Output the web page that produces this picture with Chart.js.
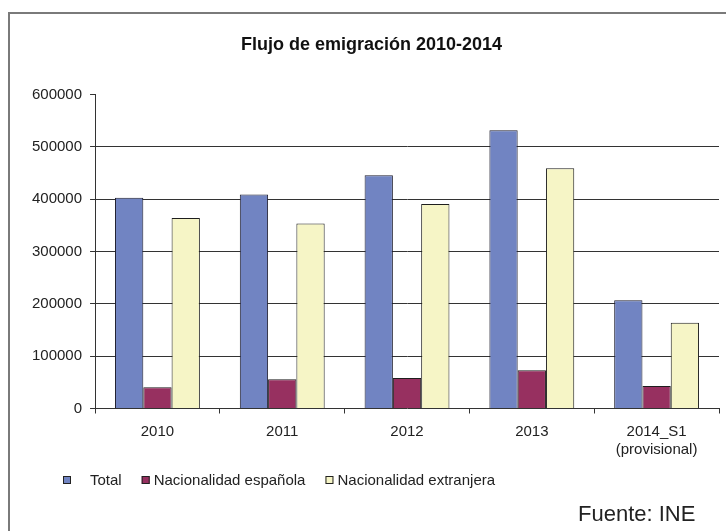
<!DOCTYPE html>
<html>
<head>
<meta charset="utf-8">
<title>Flujo de emigración 2010-2014</title>
<script src="https://cdn.jsdelivr.net/npm/chart.js@4.4.1/dist/chart.umd.min.js"></script>
<style>
html,body{margin:0;padding:0;background:#fff;overflow:hidden;}
#wrap{position:relative;width:726px;height:531px;}
</style>
</head>
<body>
<div id="wrap"><canvas id="emigChart" width="726" height="531"></canvas></div>
<script>

// ===========================
// DATOS
// ===========================

const categorias = ["2010", "2011", "2012", "2013", ["2014_S1", "(provisional)"]];

const total      = [403000, 409000, 446000, 532000, 207000];
const espanola   = [40500, 56000, 58500, 73000, 43000];
const extranjera = [364000, 353500, 391000, 459000, 164000];

const ticksY = [0, 100000, 200000, 300000, 400000, 500000, 600000];

const FONT = "'Liberation Sans', Arial, sans-serif";

// ===========================
// MARCO, LEYENDA Y FUENTE
// ===========================

const extras = {
    id: 'extras',
    afterDraw(chart){

        const c = chart.ctx;
        c.save();

        // marco gris (solo arriba e izquierda visibles)
        c.strokeStyle = '#7a7a7a';
        c.lineWidth = 2;
        c.beginPath();
        c.moveTo(9, 531);
        c.lineTo(9, 13);
        c.lineTo(726, 13);
        c.stroke();

        // leyenda
        c.font = "15px " + FONT;
        c.textBaseline = 'alphabetic';
        const gaps = [19, 4, 4];
        let x = 63;
        const yBox = 476;
        chart.data.datasets.forEach((ds, i) => {
            c.fillStyle = ds.backgroundColor;
            c.fillRect(x, yBox, 8, 8);
            c.strokeStyle = '#222';
            c.lineWidth = 1;
            c.strokeRect(x + 0.5, yBox + 0.5, 7, 7);
            x += 8 + gaps[i];
            c.fillStyle = '#222';
            c.fillText(ds.label, x, 485);
            x += c.measureText(ds.label).width + 20;
        });

        // fuente
        c.font = "22px " + FONT;
        c.fillStyle = '#222';
        c.fillText("Fuente: INE", 578, 521);

        c.restore();
    }
};

// ===========================
// GRAFICO
// ===========================

const ctx = document.getElementById("emigChart").getContext("2d");

const emigChart = new Chart(ctx, {

    type: 'bar',

    data: {
        labels: categorias,
        datasets: [
            {
                label: 'Total',
                data: total,
                backgroundColor: '#7184c2',
                borderColor: '#1e1e2e',
                borderWidth: 1
            },
            {
                label: 'Nacionalidad española',
                data: espanola,
                backgroundColor: '#973060',
                borderColor: '#1e1e1e',
                borderWidth: 1
            },
            {
                label: 'Nacionalidad extranjera',
                data: extranjera,
                backgroundColor: '#f6f5c6',
                borderColor: '#1e1e1e',
                borderWidth: 1
            }
        ]
    },

    options: {
        responsive: false,
        animation: false,
        layout: {
            padding: { left: 24, right: 7, top: 0, bottom: 63 }
        },
        datasets: {
            bar: {
                categoryPercentage: 0.68,
                barPercentage: 1.0
            }
        },
        plugins: {
            legend: { display: false },
            tooltip: { enabled: false },
            title: {
                display: true,
                text: 'Flujo de emigración 2010-2014',
                color: '#111',
                font: { family: FONT, size: 18, weight: 'bold' },
                padding: { top: 34, bottom: 39 }
            }
        },
        scales: {
            x: {
                grid: {
                    offset: true,
                    drawOnChartArea: false,
                    drawTicks: true,
                    tickLength: 5,
                    tickColor: '#333'
                },
                border: { color: '#333', width: 1 },
                ticks: {
                    color: '#222',
                    padding: 10,
                    font: { family: FONT, size: 15, lineHeight: 1.15 },
                    maxRotation: 0
                }
            },
            y: {
                min: 0,
                max: 600000,
                afterBuildTicks(axis){
                    axis.ticks = ticksY.map(v => ({ value: v }));
                },
                grid: {
                    color: c => (c.tick && (c.tick.value === 600000 || c.tick.value === 0)) ? 'rgba(0,0,0,0)' : '#333',
                    tickColor: '#333',
                    tickLength: 5
                },
                border: { color: '#333', width: 1 },
                ticks: {
                    color: '#222',
                    padding: 8,
                    font: { family: FONT, size: 15 },
                    callback: v => String(v)
                }
            }
        }
    },

    plugins: [extras]
});

</script>
</body>
</html>
